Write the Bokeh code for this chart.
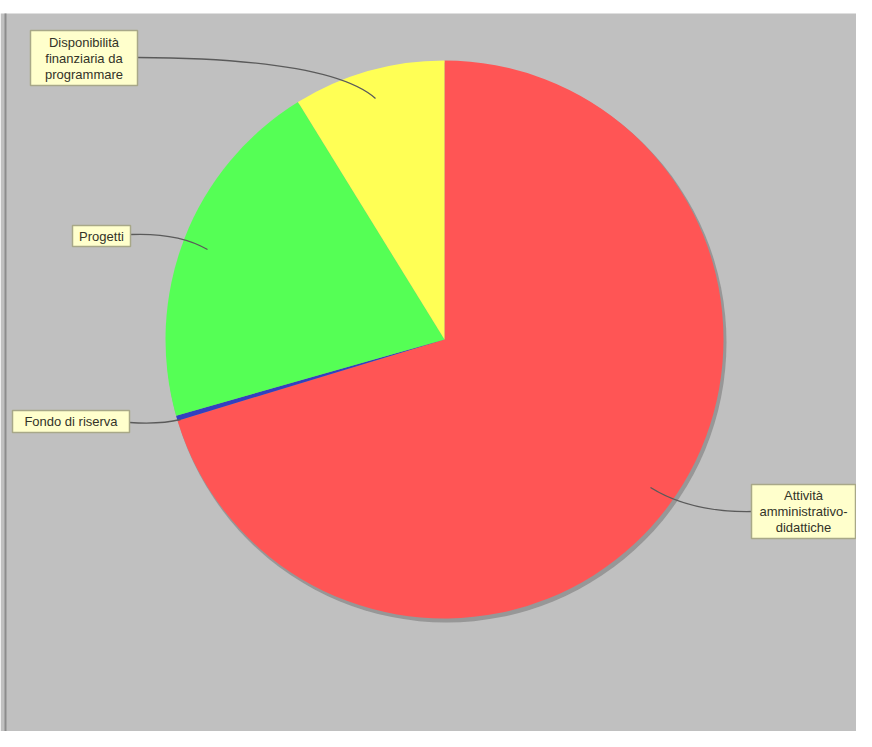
import numpy as np
from bokeh.plotting import figure
from bokeh.models import Range1d, ColumnDataSource
from bokeh.embed import file_html
from bokeh.resources import INLINE
from bokeh.core.properties import value

# ---- data ----
categories = ["Attività amministrativo-didattiche", "Fondo di riserva",
              "Progetti", "Disponibilità finanziaria da programmare"]
shares = [70.3, 0.3, 20.6, 8.8]
colors = ["#FF5555", "#3340C0", "#55FF55", "#FFFF55"]
label_lines = [["Attività", "amministrativo-", "didattiche"],
               ["Fondo di riserva"],
               ["Progetti"],
               ["Disponibilità", "finanziaria da", "programmare"]]

# ---- layout (page pixel coordinates, y downward) ----
W, H = 856, 731
def Y(py):
    return H - py

# label boxes: left, top, right, bottom
boxes = [(751, 484, 855, 538), (12, 410, 129, 432), (72, 225, 130, 246), (30, 30, 137, 85)]
# leader curves: start, control, end
leaders = [((751, 511), (690, 512), (650, 487)),
           ((129, 422), (160, 424), (180, 419)),
           ((130, 234), (178, 232), (207, 249)),
           ((137, 57), (330, 58), (375, 98))]
cx, cy, R = 444, 339, 279

p = figure(width=W, height=H, x_range=Range1d(0, W), y_range=Range1d(0, H),
           output_backend="svg", toolbar_location=None, min_border=0)
p.axis.visible = False
p.grid.visible = False
p.outline_line_color = None
p.background_fill_color = "white"
p.border_fill_color = "white"

# gray panel
p.quad(left=[0], right=[W], top=[Y(13)], bottom=[Y(H)], fill_color="#C0C0C0", line_color=None)
p.segment(x0=[5], y0=[Y(13)], x1=[5], y1=[Y(H)], line_color="#8C8C8C", line_width=2)

# shadow
p.circle(x=[cx + 2], y=[Y(cy) - 3], radius=R + 1, fill_color="#6E6E6E", fill_alpha=0.5, line_color=None)

# pie
frac = np.array(shares) / np.sum(shares)
cum = np.concatenate([[0], np.cumsum(frac)])
start = np.pi / 2 - 2 * np.pi * cum[:-1]
end = np.pi / 2 - 2 * np.pi * cum[1:]
src = ColumnDataSource(dict(start=start, end=end, color=colors, cat=categories))
p.wedge(x=cx, y=Y(cy), radius=R, start_angle="start", end_angle="end", direction="clock",
        fill_color="color", line_color=None, source=src)

# leader lines
for (s, c, e) in leaders:
    p.quadratic(x0=[s[0]], y0=[Y(s[1])], x1=[e[0]], y1=[Y(e[1])], cx=[c[0]], cy=[Y(c[1])],
                line_color="#5A5A5A", line_width=1.3)

# label boxes and text
for (l, t, r, b), lines in zip(boxes, label_lines):
    p.quad(left=[l], right=[r], top=[Y(t)], bottom=[Y(b)], fill_color="#FFFFCC",
           line_color="#A8A888", line_width=1.5)
    n = len(lines)
    mid = (t + b) / 2
    ys = [Y(mid + (i - (n - 1) / 2) * 16) for i in range(n)]
    xs = [(l + r) / 2] * n
    p.text(x=xs, y=ys, text=lines, text_align="center", text_baseline="middle",
           text_font=value("Liberation Sans"), text_font_size="13px", text_color="#333328")

open("out.html", "w").write(file_html(p, INLINE))
